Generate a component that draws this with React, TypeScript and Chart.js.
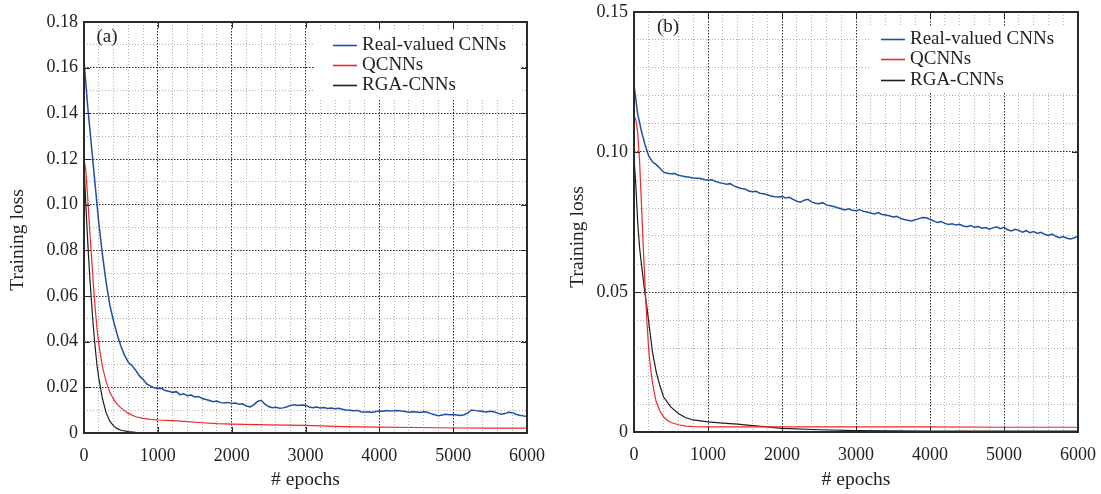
import React, { useEffect, useRef } from "react";
import { Chart, registerables } from "chart.js";

Chart.register(...registerables);

// ---------------- data ----------------
const SERIES_NAMES = ["Real-valued CNNs", "QCNNs", "RGA-CNNs"];
const X_TICK_LABELS = ["0", "1000", "2000", "3000", "4000", "5000", "6000"];
const A_Y_TICK_LABELS = ["0", "0.02", "0.04", "0.06", "0.08", "0.10", "0.12", "0.14", "0.16", "0.18"];
const B_Y_TICK_LABELS = ["0", "0.05", "0.10", "0.15"];

// Panel (a)
const A_BLUE_EPOCHS = [
  0, 50, 100, 150, 200, 250, 300, 350, 400, 450, 500, 550, 600, 650, 700, 750, 800, 850, 900, 950,
  1000, 1050, 1100, 1150, 1200, 1250, 1300, 1350, 1400, 1450, 1500, 1550, 1600, 1650, 1700, 1750, 1800, 1850, 1900, 1950,
  2000, 2050, 2100, 2150, 2200, 2250, 2300, 2350, 2400, 2450, 2500, 2550, 2600, 2650, 2700, 2750, 2800, 2850, 2900, 2950,
  3000, 3050, 3100, 3150, 3200, 3250, 3300, 3350, 3400, 3450, 3500, 3550, 3600, 3650, 3700, 3750, 3800, 3850, 3900, 3950,
  4000, 4050, 4100, 4150, 4200, 4250, 4300, 4350, 4400, 4450, 4500, 4550, 4600, 4650, 4700, 4750, 4800, 4850, 4900, 4950,
  5000, 5050, 5100, 5150, 5200, 5250, 5300, 5350, 5400, 5450, 5500, 5550, 5600, 5650, 5700, 5750, 5800, 5850, 5900, 5950,
  6000,
];
const A_BLUE = [
  0.163, 0.143, 0.126, 0.109, 0.092, 0.078, 0.066, 0.056, 0.049, 0.043, 0.038, 0.034, 0.031, 0.0295, 0.0275, 0.025, 0.0235, 0.0215, 0.0205, 0.0198,
  0.0195, 0.0196, 0.0186, 0.0183, 0.0178, 0.0181, 0.0168, 0.0172, 0.0163, 0.0166, 0.0158, 0.016, 0.0151, 0.0147, 0.0142, 0.0137, 0.014, 0.0133, 0.0131, 0.0134,
  0.0129, 0.0131, 0.0126, 0.0128, 0.0118, 0.0114, 0.0123, 0.0138, 0.0143, 0.0126, 0.0116, 0.0111, 0.0113, 0.0108, 0.011, 0.0115, 0.0121, 0.0124, 0.012, 0.0123,
  0.0122, 0.0114, 0.0111, 0.0114, 0.011, 0.0112, 0.0107, 0.0109, 0.0106, 0.0108, 0.0104, 0.0101, 0.01, 0.0097, 0.0099, 0.0093, 0.0091, 0.0093, 0.009, 0.0094,
  0.0096, 0.0095, 0.0098, 0.0096, 0.0097, 0.0099, 0.0096, 0.0094, 0.0091, 0.0093, 0.0092, 0.009, 0.0093, 0.0091, 0.0085, 0.008, 0.0076, 0.0079, 0.0082, 0.008,
  0.0081, 0.0079, 0.0077, 0.008, 0.0088, 0.0101, 0.0098, 0.0096, 0.0094, 0.0092, 0.0095, 0.0093, 0.0087, 0.0082, 0.0085, 0.0091, 0.0089, 0.0082, 0.0078, 0.0075,
  0.0072,
];
const A_RED_EPOCHS = [0, 25, 50, 75, 100, 125, 150, 175, 200, 250, 300, 350, 400, 450, 500, 600, 700, 800, 900, 1000, 1200, 1400, 1600, 1800, 2000, 2500, 3000, 3500, 4000, 4500, 5000, 5500, 6000];
const A_RED = [0.12, 0.115, 0.103, 0.09, 0.078, 0.066, 0.055, 0.046, 0.039, 0.029, 0.0225, 0.0178, 0.0148, 0.0125, 0.011, 0.0086, 0.0071, 0.0064, 0.006, 0.0057, 0.0054, 0.005, 0.0045, 0.0041, 0.0039, 0.0036, 0.0033, 0.0028, 0.0026, 0.0024, 0.0022, 0.0021, 0.0021];
const A_BLACK_EPOCHS = [0, 25, 50, 75, 100, 125, 150, 175, 200, 250, 300, 350, 400, 450, 500, 600, 700, 800, 1000, 1500, 2000, 3000, 4000, 5000, 6000];
const A_BLACK = [0.118, 0.1, 0.084, 0.07, 0.058, 0.047, 0.038, 0.03, 0.024, 0.015, 0.0088, 0.0052, 0.0031, 0.0019, 0.0012, 0.0006, 0.0003, 0.0002, 0.0001, 0.0001, 0.0001, 0.0001, 0.0001, 0.0001, 0.0001];

// Panel (b)
const B_BLUE_EPOCHS = A_BLUE_EPOCHS;
const B_BLUE = [
  0.124, 0.1135, 0.1075, 0.1025, 0.0985, 0.0965, 0.0955, 0.0942, 0.0928, 0.0924, 0.0922, 0.0923, 0.0917, 0.0914, 0.0912, 0.091, 0.0907, 0.0906, 0.0905, 0.0902,
  0.0899, 0.0901, 0.0895, 0.0891, 0.0888, 0.0885, 0.0887, 0.0879, 0.0874, 0.087, 0.0868, 0.0861, 0.0858, 0.086, 0.0853, 0.0851, 0.0847, 0.0843, 0.084, 0.0839,
  0.0841, 0.0836, 0.0838, 0.0831, 0.0824, 0.0821, 0.0828, 0.0831, 0.0822, 0.0817, 0.0815, 0.0819, 0.0811, 0.0808, 0.0805, 0.0801, 0.0797, 0.0793, 0.0797, 0.0792,
  0.079, 0.0794, 0.0788, 0.0786, 0.0782, 0.0779, 0.0784, 0.0777, 0.0775, 0.0772, 0.0768, 0.077, 0.0763, 0.0759, 0.0756, 0.0754, 0.0758, 0.0762, 0.0766, 0.0765,
  0.076, 0.0754, 0.0748, 0.0752, 0.0745, 0.0741, 0.0744, 0.0739, 0.0742, 0.0736, 0.0733, 0.0737, 0.0731, 0.0734, 0.0728, 0.073, 0.0724, 0.0729, 0.0733, 0.0726,
  0.0731, 0.0722, 0.0718, 0.0724, 0.072, 0.0714, 0.0719, 0.0712, 0.0716, 0.0709, 0.0713, 0.0706, 0.0702, 0.0707, 0.0699, 0.0694, 0.0698, 0.0692, 0.0689, 0.0694,
  0.0698,
];
const B_RED_EPOCHS = [0, 25, 50, 75, 100, 125, 150, 175, 200, 225, 250, 300, 350, 400, 450, 500, 600, 700, 800, 1000, 1500, 2000, 3000, 4000, 5000, 6000];
const B_RED = [0.113, 0.1115, 0.107, 0.097, 0.082, 0.066, 0.052, 0.039, 0.029, 0.0225, 0.0175, 0.0108, 0.0075, 0.0054, 0.0042, 0.0034, 0.0026, 0.0021, 0.0019, 0.0018, 0.0018, 0.0018, 0.0018, 0.0018, 0.0017, 0.0017];
const B_BLACK_EPOCHS = [0, 25, 50, 75, 100, 125, 150, 175, 200, 250, 300, 350, 400, 500, 600, 700, 800, 1000, 1200, 1400, 1600, 1800, 2000, 2500, 3000, 3500, 4000, 5000, 6000];
const B_BLACK = [0.098, 0.088, 0.075, 0.066, 0.06, 0.0545, 0.049, 0.0445, 0.039, 0.0285, 0.0215, 0.0165, 0.0125, 0.0089, 0.0066, 0.0051, 0.0043, 0.0036, 0.0032, 0.0028, 0.0023, 0.0018, 0.0013, 0.0008, 0.0005, 0.0004, 0.0003, 0.0003, 0.0003];

// ---------------- styling ----------------
const FONT = "'Liberation Serif', 'Times New Roman', serif";
const TEXT = "#222222";
const BLUE = "#1f4fa5";
const RED = "#f02828";
const BLACK = "#1e1e1e";
const MAJOR_GRID = "rgba(20,20,20,0.9)";
const MINOR_GRID = "rgba(150,150,150,0.75)";
const TICK_SIZE = 18;
const TITLE_SIZE = 19.5;
const LEGEND_SIZE = 19;

type Spec = {
  series: { epochs: number[]; values: number[]; color: string; width: number }[];
  yMax: number;
  yMajorHundredths: number;
  yLabels: string[];
  padding: { left: number; right: number; top: number; bottom: number };
  yWidth: number;
  xHeight: number;
  yTitlePos: [number, number];
  tag: string;
  tagPos: [number, number];
  legendBox: { x: number; y: number; w: number; h: number };
  legendRows: number[];
  legendSample: [number, number];
  legendText: number;
};

function makeChart(canvas: HTMLCanvasElement, spec: Spec) {
  const isXMajor = (v: number) => Math.round(v) % 1000 === 0;
  const isYMajor = (v: number) => Math.round(v * 100) % spec.yMajorHundredths === 0;
  const xLabel = (v: number) => X_TICK_LABELS[Math.round(v / 1000)] ?? "";
  const yLabel = (v: number) => spec.yLabels[Math.round((v * 100) / spec.yMajorHundredths)] ?? "";

  const decor = {
    id: "panelDecor",
    beforeDatasetsDraw(chart: any) {
      const ctx = chart.ctx;
      const b = spec.legendBox;
      ctx.save();
      ctx.fillStyle = "#ffffff";
      ctx.fillRect(b.x, b.y, b.w, b.h);
      ctx.restore();
    },
    afterDatasetsDraw(chart: any) {
      const { ctx, chartArea: ca, scales } = chart;
      ctx.save();
      // legend
      ctx.font = `${LEGEND_SIZE}px ${FONT}`;
      ctx.textBaseline = "middle";
      ctx.textAlign = "left";
      chart.data.datasets.forEach((ds: any, i: number) => {
        const y = spec.legendRows[i];
        ctx.strokeStyle = ds.borderColor;
        ctx.lineWidth = 1.6;
        ctx.beginPath();
        ctx.moveTo(spec.legendSample[0], y + 0.5);
        ctx.lineTo(spec.legendSample[1], y + 0.5);
        ctx.stroke();
        ctx.fillStyle = TEXT;
        ctx.fillText(ds.label, spec.legendText, y);
      });
      // panel tag
      ctx.textAlign = "center";
      ctx.fillText(spec.tag, spec.tagPos[0], spec.tagPos[1]);
      // y-axis title
      ctx.save();
      ctx.font = `${TITLE_SIZE}px ${FONT}`;
      ctx.translate(spec.yTitlePos[0], spec.yTitlePos[1]);
      ctx.rotate(-Math.PI / 2);
      ctx.textAlign = "center";
      ctx.textBaseline = "middle";
      ctx.fillText("Training loss", 0, 0);
      ctx.restore();
      // frame
      ctx.strokeStyle = "#2a2a2a";
      ctx.lineWidth = 2;
      ctx.strokeRect(ca.left, ca.top, ca.right - ca.left, ca.bottom - ca.top);
      // inward major tick marks
      ctx.lineWidth = 1;
      const seg = (x1: number, y1: number, x2: number, y2: number) => {
        ctx.beginPath();
        ctx.moveTo(x1, y1);
        ctx.lineTo(x2, y2);
        ctx.stroke();
      };
      scales.x.ticks.forEach((t: any) => {
        if (!isXMajor(t.value)) return;
        const px = Math.round(scales.x.getPixelForValue(t.value)) + 0.5;
        seg(px, ca.top, px, ca.top + 6);
        seg(px, ca.bottom, px, ca.bottom - 6);
      });
      scales.y.ticks.forEach((t: any) => {
        if (!isYMajor(t.value)) return;
        const py = Math.round(scales.y.getPixelForValue(t.value)) + 0.5;
        seg(ca.left, py, ca.left + 6, py);
        seg(ca.right, py, ca.right - 6, py);
      });
      ctx.restore();
    },
  };

  return new Chart(canvas, {
    type: "line",
    data: {
      datasets: spec.series.map((s, i) => ({
        label: SERIES_NAMES[i],
        data: s.epochs.map((x, j) => ({ x, y: s.values[j] })),
        borderColor: s.color,
        backgroundColor: s.color,
        borderWidth: s.width,
        pointRadius: 0,
        tension: 0,
        fill: false,
      })),
    },
    options: {
      animation: false,
      responsive: false,
      devicePixelRatio: 1,
      layout: { padding: spec.padding },
      plugins: { legend: { display: false }, tooltip: { enabled: false } },
      scales: {
        x: {
          type: "linear",
          min: 0,
          max: 6000,
          afterBuildTicks: (s: any) => {
            const t = [];
            for (let v = 0; v <= 6000; v += 200) t.push({ value: v });
            s.ticks = t;
          },
          afterFit: (s: any) => {
            s.height = spec.xHeight;
            s.paddingLeft = 0;
            s.paddingRight = 0;
          },
          grid: {
            drawTicks: false,
            lineWidth: 1,
            color: (c: any) => (c.tick && isXMajor(c.tick.value) ? MAJOR_GRID : MINOR_GRID),
          },
          border: {
            display: false,
            dash: (c: any) => (c.tick && isXMajor(c.tick.value) ? [1.5, 1.5] : [1, 2]),
          },
          ticks: {
            autoSkip: false,
            maxRotation: 0,
            padding: 12,
            color: TEXT,
            font: { family: FONT, size: TICK_SIZE },
            callback: (v: any) => (isXMajor(Number(v)) ? xLabel(Number(v)) : ""),
          },
          title: {
            display: true,
            text: "# epochs",
            color: TEXT,
            font: { family: FONT, size: TITLE_SIZE },
            padding: { top: 0, bottom: 2 },
          },
        },
        y: {
          type: "linear",
          min: 0,
          max: spec.yMax,
          afterBuildTicks: (s: any) => {
            const t = [];
            const n = Math.round(spec.yMax * 100);
            for (let i = 0; i <= n; i++) t.push({ value: i / 100 });
            s.ticks = t;
          },
          afterFit: (s: any) => {
            s.width = spec.yWidth;
            s.paddingTop = 0;
            s.paddingBottom = 0;
          },
          grid: {
            drawTicks: false,
            lineWidth: 1,
            color: (c: any) => (c.tick && isYMajor(c.tick.value) ? MAJOR_GRID : MINOR_GRID),
          },
          border: {
            display: false,
            dash: (c: any) => (c.tick && isYMajor(c.tick.value) ? [1.5, 1.5] : [1, 2]),
          },
          ticks: {
            autoSkip: false,
            padding: 6,
            color: TEXT,
            font: { family: FONT, size: TICK_SIZE },
            callback: (v: any) => (isYMajor(Number(v)) ? yLabel(Number(v)) : ""),
          },
          title: { display: false },
        },
      },
    } as any,
    plugins: [decor],
  });
}

const SPEC_A: Spec = {
  series: [
    { epochs: A_BLUE_EPOCHS, values: A_BLUE, color: BLUE, width: 1.5 },
    { epochs: A_RED_EPOCHS, values: A_RED, color: RED, width: 1.2 },
    { epochs: A_BLACK_EPOCHS, values: A_BLACK, color: BLACK, width: 1.2 },
  ],
  yMax: 0.18,
  yMajorHundredths: 2,
  yLabels: A_Y_TICK_LABELS,
  padding: { left: 0, right: 28, top: 22, bottom: 0 },
  yWidth: 84,
  xHeight: 61,
  yTitlePos: [18, 240],
  tag: "(a)",
  tagPos: [107, 37],
  legendBox: { x: 315, y: 31, w: 207, h: 68 },
  legendRows: [45, 65, 85],
  legendSample: [333, 357],
  legendText: 362,
};

const SPEC_B: Spec = {
  series: [
    { epochs: B_BLUE_EPOCHS, values: B_BLUE, color: BLUE, width: 1.5 },
    { epochs: B_RED_EPOCHS, values: B_RED, color: RED, width: 1.2 },
    { epochs: B_BLACK_EPOCHS, values: B_BLACK, color: BLACK, width: 1.2 },
  ],
  yMax: 0.15,
  yMajorHundredths: 5,
  yLabels: B_Y_TICK_LABELS,
  padding: { left: 0, right: 23, top: 12, bottom: 0 },
  yWidth: 79,
  xHeight: 62,
  yTitlePos: [23, 237],
  tag: "(b)",
  tagPos: [113, 27],
  legendBox: { x: 315, y: 27, w: 207, h: 66 },
  legendRows: [39, 59, 80],
  legendSample: [326, 350],
  legendText: 355,
};

function PanelChart({ spec, left, width }: { spec: Spec; left: number; width: number }) {
  const ref = useRef<HTMLCanvasElement | null>(null);
  useEffect(() => {
    if (!ref.current) return;
    const chart = makeChart(ref.current, spec);
    return () => chart.destroy();
  }, [spec]);
  return (
    <canvas
      ref={ref}
      width={width}
      height={494}
      style={{ position: "absolute", left, top: 0, width, height: 494, display: "block" }}
    />
  );
}

export default function App() {
  return (
    <div style={{ position: "fixed", left: 0, top: 0, width: 1101, height: 494, background: "#ffffff", overflow: "hidden" }}>
      <PanelChart spec={SPEC_A} left={0} width={555} />
      <PanelChart spec={SPEC_B} left={555} width={546} />
    </div>
  );
}
